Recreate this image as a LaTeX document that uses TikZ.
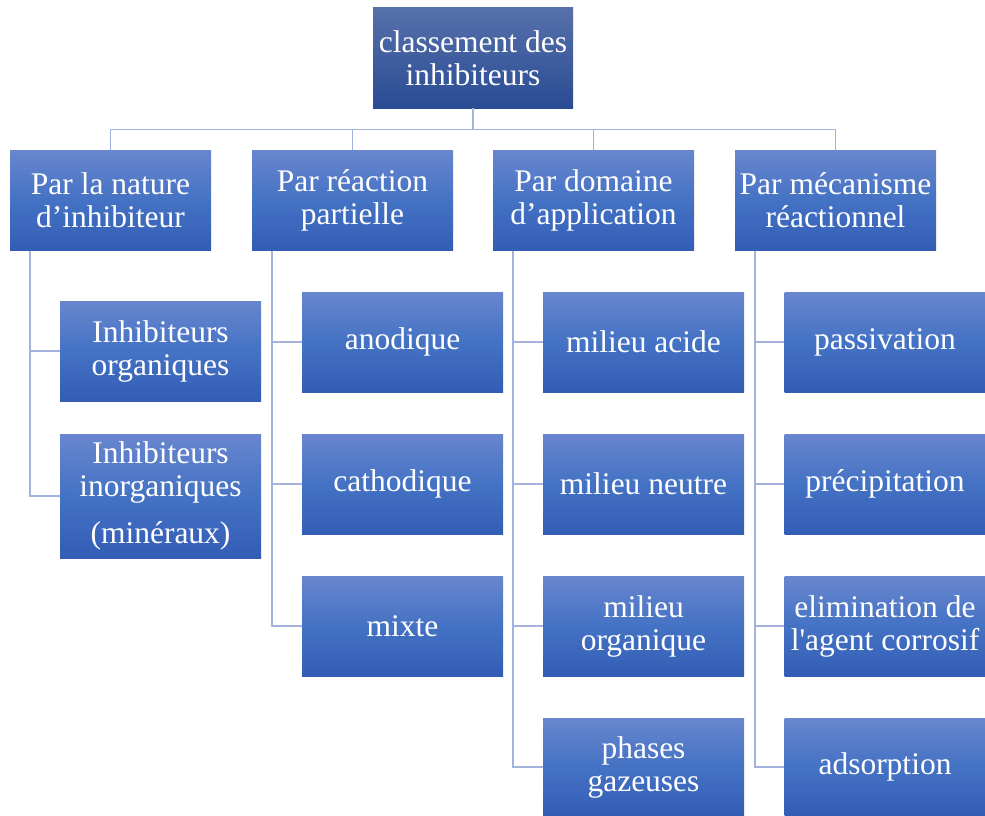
\documentclass[tikz,border=0pt]{standalone}
\usepackage{fontspec}
\setmainfont{Liberation Serif}[Ligatures=TeXOff]
\begin{document}
\begin{tikzpicture}[x=1pt,y=-1pt]
\definecolor{linkc}{HTML}{A3B3DE}
\tikzset{
  box/.style={minimum width=201pt, minimum height=100pt, inner sep=1pt,
    align=center, text=white, font=\fontsize{31.5}{33}\selectfont,
    top color=boxtop, bottom color=boxbot, middle color=boxmid},
  rootbox/.style={box, top color=roottop, middle color=rootmid, bottom color=rootbot},
  link/.style={draw=linkc, line width=1.7pt}
}
\definecolor{boxtop}{HTML}{6886CE}
\definecolor{boxmid}{HTML}{4472C4}
\definecolor{boxbot}{HTML}{335DB5}
\definecolor{roottop}{HTML}{5670AA}
\definecolor{rootmid}{HTML}{3359A8}
\definecolor{rootbot}{HTML}{2A4C94}
\useasboundingbox (0,0) rectangle (985,816);

% root
\node[rootbox, minimum width=200pt] (root) at (473,58) {classement des\\inhibiteurs};

% first level
\node[box] (p1) at (110.5,200.5) {Par la nature\\d’inhibiteur};
\node[box] (p2) at (352.5,200.5) {Par réaction\\partielle};
\node[box] (p3) at (593.5,200.5) {Par domaine\\d’application};
\node[box] (p4) at (835.5,200.5) {Par mécanisme\\réactionnel};

% children of p1
\node[box] (c11) at (160.5,351) {Inhibiteurs\\organiques};
\node[box, minimum height=124pt] (c12) at (160.5,496) {Inhibiteurs\\inorganiques\\[14pt](minéraux)};

% children of p2
\node[box] (c21) at (402.5,342) {anodique};
\node[box] (c22) at (402.5,484) {cathodique};
\node[box] (c23) at (402.5,626) {mixte};

% children of p3
\node[box] (c31) at (643.5,342) {milieu acide};
\node[box] (c32) at (643.5,484) {milieu neutre};
\node[box] (c33) at (643.5,626) {milieu\\organique};
\node[box, minimum height=98pt] (c34) at (643.5,767) {phases\\gazeuses};

% children of p4
\node[box] (c41) at (885,342) {passivation};
\node[box] (c42) at (885,484) {précipitation};
\node[box] (c43) at (885,626) {elimination de\\l'agent corrosif};
\node[box, minimum height=98pt] (c44) at (885,767) {adsorption};

% connectors from the root
\coordinate (bus) at (473,129.5);
\draw[link] (root.south) -- (bus);
\foreach \p in {p1,p2,p3,p4}{\draw[link] (\p.north) |- (bus);}

% side connectors
\foreach \p/\kids in {p1/{c11,c12}, p2/{c21,c22,c23}, p3/{c31,c32,c33,c34}, p4/{c41,c42,c43,c44}}{
  \coordinate (v-\p) at ([xshift=20.5pt]\p.south west);
  \foreach \k in \kids {\draw[link] (v-\p) |- (\k.west);}
}
\end{tikzpicture}
\end{document}
